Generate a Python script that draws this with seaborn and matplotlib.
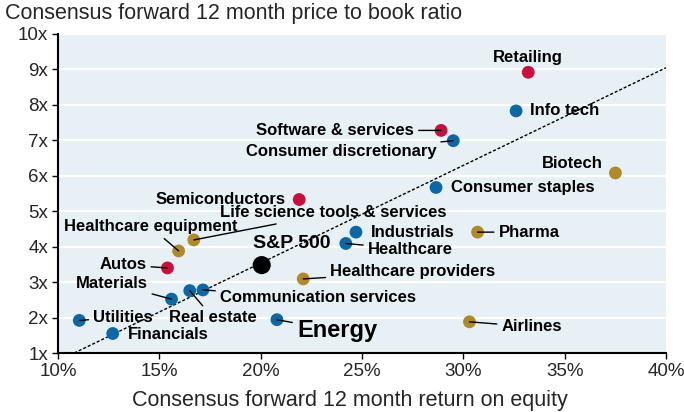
import pandas as pd
import matplotlib
matplotlib.use("Agg")
import matplotlib.pyplot as plt
import seaborn as sns

# Sector data: forward ROE (%) and forward P/B (x)
sectors = ["Retailing", "Info tech", "Software & services", "Consumer discretionary",
           "Biotech", "Consumer staples", "Semiconductors", "Life science tools & services",
           "Healthcare equipment", "Autos", "S&P 500", "Healthcare providers",
           "Materials", "Real estate", "Communication services", "Utilities",
           "Financials", "Energy", "Industrials", "Healthcare", "Pharma", "Airlines"]
roe = [33.2, 32.6, 28.9, 29.5, 37.5, 28.65, 21.9, 16.7, 15.95, 15.4, 20.05, 22.1,
       15.6, 16.5, 17.15, 11.05, 12.7, 20.8, 24.7, 24.2, 30.7, 30.3]
pb = [8.92, 7.83, 7.28, 6.99, 6.08, 5.67, 5.33, 4.19, 3.88, 3.40, 3.48, 3.09,
      2.52, 2.76, 2.78, 1.92, 1.55, 1.94, 4.41, 4.09, 4.41, 1.88]
group = ["red", "blue", "red", "blue", "gold", "blue", "red", "gold", "gold", "red",
         "index", "gold", "blue", "blue", "blue", "blue", "blue", "blue", "blue",
         "blue", "gold", "gold"]

# trend line end points
trend_x = [10.8, 40.0]
trend_y = [1.0, 9.05]

df = pd.DataFrame({"sector": sectors, "roe": roe, "pb": pb, "group": group})

palette = {"red": "#c8103a", "blue": "#0b68a5", "gold": "#b0892b", "index": "#000000"}

sns.set_style("white", {"axes.facecolor": "#e7f0f4"})
plt.rcParams["font.family"] = ["Liberation Sans", "DejaVu Sans"]

fig = plt.figure(figsize=(6.84, 4.12), dpi=100)
ax = fig.add_axes([0.0848, 0.1432, 0.889, 0.7743])

for y in range(2, 11):
    ax.axhline(y, color="white", lw=1.6, zorder=0)

ax.plot(trend_x, trend_y, color="black", lw=1, ls=(0, (2.2, 1.4)), zorder=1)

sns.scatterplot(data=df[df.group != "index"], x="roe", y="pb", hue="group",
                palette=palette, s=85, edgecolor="none", legend=False, ax=ax, zorder=3)
sns.scatterplot(data=df[df.group == "index"], x="roe", y="pb", color="black",
                s=170, edgecolor="none", legend=False, ax=ax, zorder=3)

# label placement: offset in pixels, alignment, leader line, font size
label_opts = {
    "Retailing": (0, 15, "center", False, 12),
    "Info tech": (14, 0, "left", False, 12),
    "Software & services": (-27, 0, "right", True, 12),
    "Consumer discretionary": (-17, -11, "right", True, 12),
    "Biotech": (-13, 9, "right", False, 12),
    "Consumer staples": (15, 0, "left", False, 12),
    "Semiconductors": (-14, 0, "right", False, 12),
    "Life science tools & services": (26, 27, "left", True, 12),
    "Healthcare equipment": (-28, 24, "center", True, 12),
    "Autos": (-21, 3, "right", True, 12),
    "S&P 500": (-9, 22, "left", False, 14),
    "Healthcare providers": (27, 7, "left", True, 12),
    "Materials": (-24, 16, "right", True, 12),
    "Real estate": (23, -27, "center", True, 12),
    "Communication services": (17, -8, "left", True, 12),
    "Utilities": (14, 3, "left", True, 12),
    "Financials": (15, -1, "left", False, 12),
    "Energy": (20, -11, "left", True, 17),
    "Industrials": (15, 0, "left", False, 12),
    "Healthcare": (22, -6, "left", True, 12),
    "Pharma": (21, 0, "left", True, 12),
    "Airlines": (32, -5, "left", True, 12),
}

for _, row in df.iterrows():
    dx, dy, ha, leader, fs = label_opts[row.sector]
    arrow = dict(arrowstyle="-", color="black", lw=1, shrinkA=1, shrinkB=0) if leader else None
    ax.annotate(row.sector, (row.roe, row.pb), xytext=(dx, dy), textcoords="offset pixels",
                ha=ha, va="center", fontsize=fs, fontweight="bold", color="black",
                arrowprops=arrow, zorder=4)

ax.set_xlim(10, 40)
ax.set_ylim(1, 10)
ax.set_xticks(range(10, 41, 5))
ax.set_xticklabels([f"{v}%" for v in range(10, 41, 5)])
ax.set_yticks(range(1, 11))
ax.set_yticklabels([f"{v}x" for v in range(1, 11)])
ax.tick_params(axis="both", labelsize=13.5, length=4, width=1, color="black", direction="out",
               pad=3, bottom=True, left=True)
ax.set_xlabel("")
ax.set_ylabel("")
for side in ["top", "right"]:
    ax.spines[side].set_visible(False)
for side in ["left", "bottom"]:
    ax.spines[side].set_color("black")
    ax.spines[side].set_linewidth(1.5)

fig.text(0.007, 0.968, "Consensus forward 12 month price to book ratio", fontsize=15.5,
         ha="left", va="center")
fig.text(0.512, 0.014, "Consensus forward 12 month return on equity", fontsize=15.5,
         ha="center", va="baseline")

fig.savefig("out.png", dpi=100)
